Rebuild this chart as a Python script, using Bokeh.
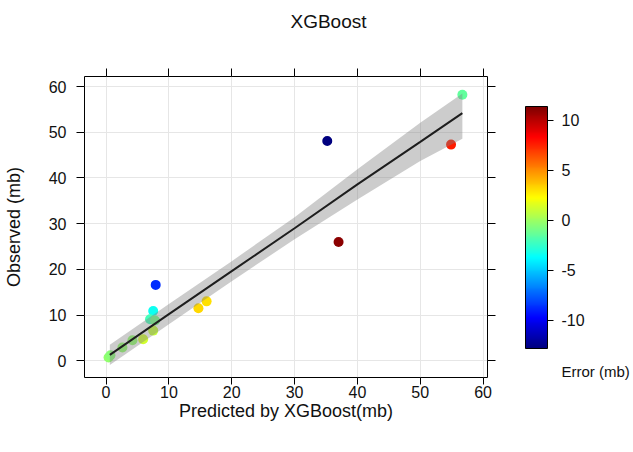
from bokeh.plotting import figure
from bokeh.models import (ColumnDataSource, LinearColorMapper, ColorBar, FixedTicker,
                          LinearAxis)
from bokeh.transform import transform
from bokeh.embed import file_html
from bokeh.resources import INLINE

# ---- data ----
predicted = [56.7, 54.9, 35.2, 37.0, 7.9, 14.7, 16.0, 7.5, 7.0, 7.8, 7.5, 5.9, 4.2, 2.6, 0.4, 0.7]
observed  = [58.2, 47.3, 48.1, 26.0, 16.6, 11.5, 13.0, 10.9, 9.1, 8.8, 6.6, 4.7, 4.5, 2.9, 0.7, 1.2]
error = [p_ - o_ for p_, o_ in zip(predicted, observed)]

fit_x  = [0.6, 10, 20, 30, 40, 50, 56.7]
fit_y  = [1.3, 10.2, 19.6, 29.0, 38.6, 47.9, 54.2]
fit_lo = [-0.9, 8.0, 17.4, 26.6, 35.3, 43.7, 48.6]
fit_hi = [3.5, 12.4, 21.8, 31.4, 41.9, 52.1, 58.5]

ticks = [0, 10, 20, 30, 40, 50, 60]
cbar_ticks = [-10, -5, 0, 5, 10]
cbar_labels = {-10: "-10", -5: "-5", 0: "0", 5: "5", 10: "10"}
err_low, err_high = -12.85, 11.35

FONT = "Liberation Sans"

# jet palette
def jet(n=256):
    out = []
    for i in range(n):
        t = i / (n - 1)
        r = min(max(1.5 - abs(4 * t - 3), 0), 1)
        g = min(max(1.5 - abs(4 * t - 2), 0), 1)
        b = min(max(1.5 - abs(4 * t - 1), 0), 1)
        out.append("#%02x%02x%02x" % (int(r * 255), int(g * 255), int(b * 255)))
    return out

palette = jet()
mapper = LinearColorMapper(palette=palette, low=err_low, high=err_high)

p = figure(width=633, height=452, x_range=(-3.43, 60.7), y_range=(-3.66, 62.2),
           output_backend="svg", toolbar_location=None,
           min_border_left=83, min_border_right=146, min_border_top=76, min_border_bottom=75)
p.title.visible = False
p.background_fill_color = "white"
p.border_fill_color = "white"
p.outline_line_color = "black"
p.outline_line_width = 1

for ax in (p.xaxis[0], p.yaxis[0]):
    ax.ticker = FixedTicker(ticks=ticks)
    ax.axis_line_color = None
    ax.major_tick_line_color = "black"
    ax.major_tick_out = 7
    ax.major_tick_in = 0
    ax.minor_tick_line_color = None
    ax.major_label_text_font = FONT
    ax.major_label_text_font_size = "16px"
    ax.major_label_text_color = "#111111"
    ax.axis_label_text_font = FONT
    ax.axis_label_text_font_size = "18px"
    ax.axis_label_text_font_style = "normal"
    ax.axis_label_text_color = "#111111"

p.xaxis[0].axis_label = "Predicted by XGBoost(mb)"
p.xaxis[0].major_label_standoff = 1
p.xaxis[0].axis_label_standoff = 0
p.yaxis[0].axis_label = "Observed (mb)"
p.yaxis[0].major_tick_out = 8
p.yaxis[0].major_label_standoff = 10
p.yaxis[0].axis_label_standoff = 22

for loc in ("above", "right"):
    ax = LinearAxis(ticker=FixedTicker(ticks=ticks))
    ax.axis_line_color = None
    ax.major_tick_line_color = "black"
    ax.major_tick_out = 8
    ax.major_tick_in = 0
    ax.minor_tick_line_color = None
    ax.major_label_text_color = None
    ax.major_label_text_font_size = "1px"
    p.add_layout(ax, loc)

p.xgrid.ticker = FixedTicker(ticks=ticks)
p.ygrid.ticker = FixedTicker(ticks=ticks)
p.xgrid.grid_line_color = "#e6e6e6"
p.ygrid.grid_line_color = "#e6e6e6"

src = ColumnDataSource(dict(x=predicted, y=observed, err=error))
p.scatter("x", "y", source=src, size=10, line_color=None,
          fill_color=transform("err", mapper))

fit_src = ColumnDataSource(dict(x=fit_x, y=fit_y, lo=fit_lo, hi=fit_hi))
p.varea(x="x", y1="lo", y2="hi", source=fit_src, fill_color="#7f7f7f", fill_alpha=0.4)
p.line("x", "y", source=fit_src, line_color="#1e1e1e", line_width=2)

cb = ColorBar(color_mapper=mapper, ticker=FixedTicker(ticks=cbar_ticks),
              major_label_overrides=cbar_labels,
              location=(441, 29), orientation="vertical", width=22, height=242,
              padding=0, margin=0, bar_line_color="black", bar_line_width=1,
              major_tick_line_color="black", major_tick_out=6, major_tick_in=0,
              minor_tick_line_color=None, label_standoff=8,
              major_label_text_font=FONT, major_label_text_font_size="16px",
              major_label_text_color="#111111",
              background_fill_color=None, border_line_color=None)
p.add_layout(cb, "center")


def caption(text, x, y, size):
    # a free-standing text drawn as the title of an invisible colour scale
    return ColorBar(color_mapper=mapper, ticker=FixedTicker(ticks=[]),
                    location=(x, y), orientation="horizontal", width=1, height=1,
                    padding=0, margin=0, scale_alpha=0, bar_line_color=None,
                    major_tick_line_color=None, minor_tick_line_color=None,
                    title=text, title_standoff=0,
                    title_text_font=FONT, title_text_font_size=size,
                    title_text_font_style="normal", title_text_color="#111111",
                    background_fill_color=None, border_line_color=None)


p.add_layout(caption("XGBoost", 206, 345, "19px"), "center")
p.add_layout(caption("Error (mb)", 477, -3, "15px"), "center")

open("out.html", "w").write(file_html(p, INLINE))
